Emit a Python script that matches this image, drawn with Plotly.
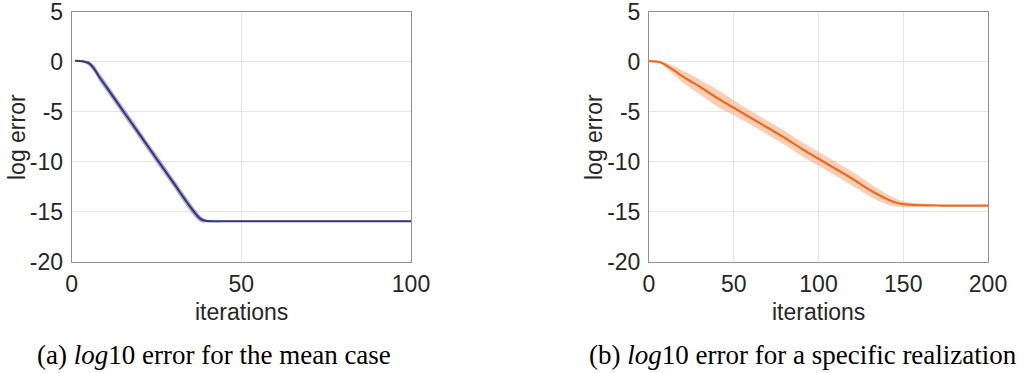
import plotly.graph_objects as go

# ---- data: (a) mean case ----
iter_a = [1, 2, 3, 4, 5, 6, 7, 8, 10, 15, 20, 25, 30, 35, 37, 38, 39, 40, 42, 50, 60, 70, 80, 90, 100]
mean_a = [0.1, 0.08, 0.05, -0.02, -0.15, -0.45, -0.9, -1.45, -2.42, -4.85, -7.27, -9.7, -12.12,
          -14.55, -15.4, -15.72, -15.88, -15.94, -15.96, -15.96, -15.96, -15.96, -15.96, -15.96, -15.96]
half_a = [0.03, 0.05, 0.1, 0.15, 0.22, 0.3, 0.36, 0.4, 0.42, 0.42, 0.42, 0.42, 0.42,
          0.42, 0.38, 0.3, 0.2, 0.13, 0.09, 0.07, 0.07, 0.07, 0.07, 0.07, 0.07]

# ---- data: (b) specific realization ----
iter_b = [0, 5, 8, 10, 15, 20, 25, 30, 40, 50, 60, 70, 80, 90, 100, 110, 120, 130, 140, 145, 150,
          160, 170, 180, 190, 200]
mean_b = [0.05, 0.0, -0.15, -0.35, -0.9, -1.5, -2.0, -2.5, -3.6, -4.6, -5.6, -6.6, -7.6, -8.7,
          -9.7, -10.7, -11.7, -12.8, -13.7, -14.05, -14.25, -14.35, -14.38, -14.4, -14.4, -14.4]
upper_b = [0.05, 0.02, -0.02, -0.12, -0.45, -0.9, -1.3, -1.8, -2.75, -3.85, -4.9, -5.9, -6.9,
           -8.0, -9.0, -10.0, -11.0, -12.15, -13.2, -13.65, -13.95, -14.2, -14.3, -14.36, -14.38, -14.38]
lower_b = [0.05, -0.02, -0.3, -0.6, -1.35, -2.1, -2.7, -3.25, -4.45, -5.35, -6.3, -7.3, -8.3,
           -9.4, -10.4, -11.4, -12.4, -13.45, -14.25, -14.45, -14.55, -14.5, -14.46, -14.44, -14.42, -14.42]

xticks_a = [0, 50, 100]
xticks_b = [0, 50, 100, 150, 200]
yticks = [5, 0, -5, -10, -15, -20]
ytick_text = ["5", "0", "-5", "-10", "-15", "-20"]

navy = "#33377a"
navy_band = "rgba(110,115,180,0.6)"
orange = "#EE6A1F"
orange_band = "rgba(247,160,110,0.5)"

fig = go.Figure()

# (a) band + line
fig.add_trace(go.Scatter(x=iter_a, y=[m + h for m, h in zip(mean_a, half_a)], mode="lines",
                         line=dict(width=0, color=navy_band, shape="spline"), showlegend=False,
                         xaxis="x", yaxis="y"))
fig.add_trace(go.Scatter(x=iter_a, y=[m - h for m, h in zip(mean_a, half_a)], mode="lines",
                         line=dict(width=0, color=navy_band, shape="spline"), fill="tonexty",
                         fillcolor=navy_band, showlegend=False, xaxis="x", yaxis="y"))
fig.add_trace(go.Scatter(x=iter_a, y=mean_a, mode="lines",
                         line=dict(width=2.0, color=navy, shape="spline"), showlegend=False,
                         xaxis="x", yaxis="y"))

# (b) band + line
fig.add_trace(go.Scatter(x=iter_b, y=upper_b, mode="lines",
                         line=dict(width=0, color=orange_band, shape="spline"), showlegend=False,
                         xaxis="x2", yaxis="y2"))
fig.add_trace(go.Scatter(x=iter_b, y=lower_b, mode="lines",
                         line=dict(width=0, color=orange_band, shape="spline"), fill="tonexty",
                         fillcolor=orange_band, showlegend=False, xaxis="x2", yaxis="y2"))
fig.add_trace(go.Scatter(x=iter_b, y=mean_b, mode="lines",
                         line=dict(width=2.2, color=orange, shape="spline"), showlegend=False,
                         xaxis="x2", yaxis="y2"))

W, H = 1034, 373
ydom = [1 - 261.7 / H, 1 - 11.7 / H]
tickfont = dict(family="Liberation Sans, Arial, sans-serif", size=23, color="#262626")
axcommon = dict(showline=True, linecolor="#8f8f8f", linewidth=1, mirror=True,
                showgrid=True, gridcolor="#e6e6e6", gridwidth=1, zeroline=False,
                ticks="", tickfont=tickfont, automargin=False, ticklabeloverflow="allow")

fig.update_layout(
    width=W, height=H,
    margin=dict(l=0, r=0, t=0, b=0, autoexpand=False),
    paper_bgcolor="white", plot_bgcolor="white",
    xaxis=dict(domain=[71.7 / W, 411 / W], range=[0, 100], tickvals=xticks_a,
               anchor="y", ticklabelstandoff=2, **axcommon),
    yaxis=dict(domain=ydom, range=[-20, 5], tickvals=yticks, ticktext=ytick_text, anchor="x",
               ticklabelstandoff=3, **axcommon),
    xaxis2=dict(domain=[649 / W, 988 / W], range=[0, 200], tickvals=xticks_b,
                anchor="y2", ticklabelstandoff=2, **axcommon),
    yaxis2=dict(domain=ydom, range=[-20, 5], tickvals=yticks, ticktext=ytick_text, anchor="x2",
                ticklabelstandoff=3, **axcommon),
)

labfont = dict(family="Liberation Sans, Arial, sans-serif", size=23, color="#262626")
capfont = dict(family="Liberation Serif, serif", size=27, color="#000000")

ann = [
    dict(x=(71.7 + 411) / 2 / W, y=1 - 312 / H, text="iterations", font=labfont),
    dict(x=(649 + 988) / 2 / W, y=1 - 312 / H, text="iterations", font=labfont),
    dict(x=17 / W, y=1 - 137 / H, text="log error", textangle=-90, font=labfont),
    dict(x=594 / W, y=1 - 137 / H, text="log error", textangle=-90, font=labfont),
    dict(x=214 / W, y=1 - 355 / H, text="(a) <i>log</i>10 error for the mean case", font=capfont),
    dict(x=803 / W, y=1 - 355 / H, text="(b) <i>log</i>10 error for a specific realization", font=capfont),
]
for a in ann:
    a.update(xref="paper", yref="paper", showarrow=False, xanchor="center", yanchor="middle")
fig.update_layout(annotations=ann)

fig.write_html("out.html",
               config={"displayModeBar": False},
               post_script="document.documentElement.style.margin='0';"
                           "document.body.style.margin='0';document.body.style.padding='0';"
                           "document.body.style.overflow='hidden';")
